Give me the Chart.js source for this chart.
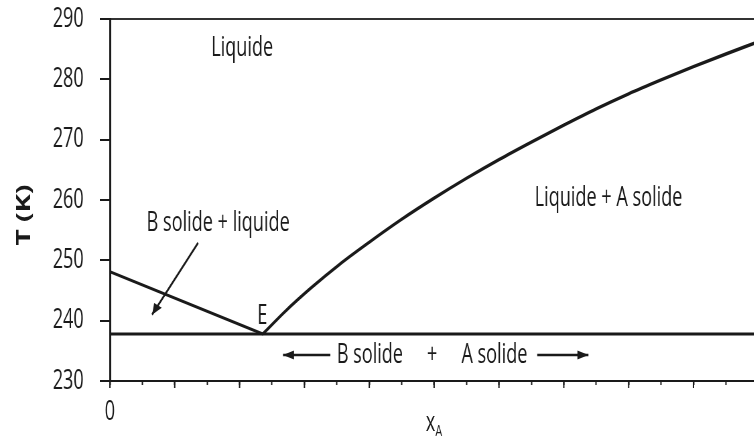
<!DOCTYPE html>
<html>
<head>
<meta charset="utf-8">
<script src="https://cdn.jsdelivr.net/npm/chart.js@4.4.0/dist/chart.umd.min.js"></script>
<style>
    html, body { margin: 0; padding: 0; background: #fff; overflow: hidden; }
    /* the figure is drawn wide and squeezed horizontally, like the narrow lettering of the diagram */
    .wrap { width: 1126px; height: 436px; transform: scaleX(0.67); transform-origin: 0 0; }
</style>
</head>
<body>
<div class="wrap"><canvas id="diagram" width="1126" height="436"></canvas></div>
<script>
const SQUEEZE = 0.67;

// phase diagram data (x_A, T in K)
const eutecticX = 0.236;
const eutecticT = 237.8;
const liquidusBX = [0, eutecticX];
const liquidusBT = [248.1, eutecticT];
const liquidusAX = [eutecticX, 0.27, 0.31, 0.355, 0.40, 0.45, 0.50, 0.55, 0.60, 0.65, 0.70, 0.75, 0.80, 0.85, 0.90, 0.95, 0.994];
const liquidusAT = [eutecticT, 241.5, 245.4, 249.4, 253.0, 256.8, 260.3, 263.6, 266.7, 269.6, 272.4, 275.1, 277.6, 279.9, 282.1, 284.2, 286.0];
const eutecticLineX = [0, 0.994];
const eutecticLineT = [eutecticT, eutecticT];

const yTickValues = [230, 240, 250, 260, 270, 280, 290];
const xTickLabels = { 0: '0' };

const toPoints = (xs, ys) => xs.map((v, i) => ({ x: v, y: ys[i] }));

const FONT = '"Open Sans", "DejaVu Sans", sans-serif';
const INK = '#1a1a1a';

// region labels and arrows, placed in data units
const regionLabels = [
    { text: 'Liquide', x: 0.204, y: 285.2 },
    { text: 'B solide + liquide', x: 0.167, y: 256.1 },
    { text: 'Liquide + A solide', x: 0.769, y: 260.3 },
    { text: 'E', x: 0.235, y: 240.8 },
    { text: 'B solide', x: 0.401, y: 234.3 },
    { text: '+', x: 0.497, y: 234.3 },
    { text: 'A solide', x: 0.593, y: 234.3 },
];
const arrows = [
    { from: [0.136, 252.9], to: [0.065, 241.0] },
    { from: [0.340, 234.3], to: [0.267, 234.3] },
    { from: [0.659, 234.3], to: [0.738, 234.3] },
];

function drawArrow(ctx, x1, y1, x2, y2) {
    ctx.beginPath();
    ctx.moveTo(x1, y1);
    ctx.lineTo(x2, y2);
    ctx.stroke();
    // head computed in screen space so the squeeze does not bend it
    const dx = (x2 - x1) * SQUEEZE, dy = y2 - y1;
    const a = Math.atan2(dy, dx);
    const len = 11, half = 4.5;
    const bx = x2 * SQUEEZE - Math.cos(a) * len, by = y2 - Math.sin(a) * len;
    const px = -Math.sin(a) * half, py = Math.cos(a) * half;
    ctx.beginPath();
    ctx.moveTo(x2, y2);
    ctx.lineTo((bx + px) / SQUEEZE, by + py);
    ctx.lineTo((bx - px) / SQUEEZE, by - py);
    ctx.closePath();
    ctx.fill();
}

const annotate = {
    id: 'annotate',
    afterDraw(chart) {
        const { ctx, scales: { x, y } } = chart;
        ctx.save();
        ctx.fillStyle = INK;
        ctx.strokeStyle = INK;

        // longer marks at every tenth
        ctx.lineWidth = 2;
        x.ticks.forEach(t => {
            if (Math.round(t.value * 100) % 10 !== 0) return;
            const px = x.getPixelForValue(t.value);
            ctx.beginPath();
            ctx.moveTo(px, x.top);
            ctx.lineTo(px, x.top + 7);
            ctx.stroke();
        });

        ctx.font = '27px ' + FONT;
        ctx.textAlign = 'center';
        ctx.textBaseline = 'middle';
        regionLabels.forEach(l => {
            ctx.fillText(l.text, x.getPixelForValue(l.x), y.getPixelForValue(l.y));
        });

        ctx.lineWidth = 2.4;
        arrows.forEach(a => {
            drawArrow(ctx,
                x.getPixelForValue(a.from[0]), y.getPixelForValue(a.from[1]),
                x.getPixelForValue(a.to[0]), y.getPixelForValue(a.to[1]));
        });

        // axis titles
        ctx.save();
        ctx.translate(37, (y.top + y.bottom) / 2 + 15);
        ctx.rotate(-Math.PI / 2);
        ctx.font = 'bold 28px ' + FONT;
        ctx.fillText('T (K)', 0, 0);
        ctx.restore();

        const cx = x.getPixelForValue(0.5);
        ctx.textAlign = 'left';
        ctx.textBaseline = 'alphabetic';
        ctx.font = '27px ' + FONT;
        const w1 = ctx.measureText('x').width;
        ctx.font = '17px ' + FONT;
        const w2 = ctx.measureText('A').width;
        const sx = cx - (w1 + w2) / 2;
        ctx.font = '27px ' + FONT;
        ctx.fillText('x', sx, chart.height - 5);
        ctx.font = '17px ' + FONT;
        ctx.fillText('A', sx + w1, chart.height + 1);
        ctx.restore();
    }
};

const lineStyle = {
    showLine: true,
    borderColor: INK,
    pointRadius: 0,
    fill: false,
};

new Chart(document.getElementById('diagram'), {
    type: 'scatter',
    data: {
        datasets: [
            { ...lineStyle, label: 'liquidus B', data: toPoints(liquidusBX, liquidusBT), borderWidth: 3 },
            { ...lineStyle, label: 'liquidus A', data: toPoints(liquidusAX, liquidusAT), borderWidth: 3.4, cubicInterpolationMode: 'monotone' },
            { ...lineStyle, label: 'eutectique', data: toPoints(eutecticLineX, eutecticLineT), borderWidth: 3 },
        ],
    },
    options: {
        responsive: false,
        animation: false,
        devicePixelRatio: 1,
        layout: { padding: { top: 19, left: 0, right: 0, bottom: 0 } },
        plugins: {
            legend: { display: false },
            tooltip: { enabled: false },
        },
        scales: {
            x: {
                type: 'linear',
                min: 0,
                max: 0.994,
                afterFit(scale) { scale.height = 55; },
                border: { display: true, color: INK, width: 2 },
                grid: {
                    drawOnChartArea: false,
                    tickLength: 4,
                    tickColor: INK,
                    tickWidth: 2,
                },
                ticks: {
                    stepSize: 0.05,
                    includeBounds: false,
                    autoSkip: false,
                    maxRotation: 0,
                    padding: 11,
                    color: INK,
                    font: { family: FONT, size: 27 },
                    callback: v => xTickLabels[Math.round(v * 100) / 100] || '',
                },
            },
            y: {
                type: 'linear',
                min: 230,
                max: 290,
                afterFit(scale) {
                    scale.width = 164;
                    // keep the end labels from pushing the plot area in
                    scale.paddingTop = 0;
                    scale.paddingBottom = 0;
                },
                afterBuildTicks(scale) { scale.ticks = yTickValues.map(v => ({ value: v })); },
                border: { display: true, color: INK, width: 3 },
                grid: {
                    color: c => (c.tick && c.tick.value === 290 ? '#333' : 'rgba(0,0,0,0)'),
                    lineWidth: 2,
                    tickLength: 15,
                    tickColor: INK,
                    tickWidth: 2,
                },
                ticks: {
                    padding: 24,
                    color: INK,
                    font: { family: FONT, size: 27 },
                },
            },
        },
    },
    plugins: [annotate],
});
</script>
</body>
</html>
